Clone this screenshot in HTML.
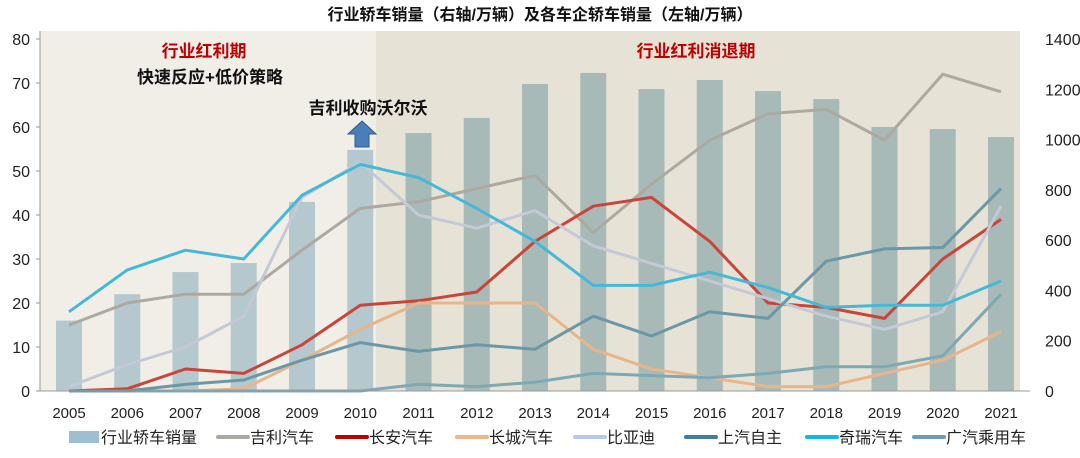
<!DOCTYPE html>
<html><head><meta charset="utf-8"><style>
body{margin:0;background:#fff;width:1080px;height:453px;overflow:hidden;font-family:"Liberation Sans","Noto Sans CJK SC",sans-serif}
svg text{font-family:"Liberation Sans","Noto Sans CJK SC",sans-serif}
</style></head><body>
<svg id="c" width="1080" height="453">
<rect x="40" y="31" width="336" height="360" fill="#F1EEE7"/>
<rect x="376" y="31" width="644" height="360" fill="#E6E3D6"/>
<g id="bars"></g><g id="lines"></g><g id="axes"></g>
<text x="540" y="20" text-anchor="middle" font-size="16" font-weight="bold" fill="#111">行业轿车销量（右轴/万辆）及各车企轿车销量（左轴/万辆）</text>
<text x="204" y="57" text-anchor="middle" font-size="17" font-weight="bold" fill="#C00000">行业红利期</text>
<text x="210" y="83" text-anchor="middle" font-size="17" font-weight="bold" fill="#111">快速反应+低价策略</text>
<text x="696" y="57" text-anchor="middle" font-size="17" font-weight="bold" fill="#C00000">行业红利消退期</text>
<text x="368" y="114" text-anchor="middle" font-size="17" font-weight="bold" fill="#111">吉利收购沃尔沃</text>
<polygon points="362,121 376,134 369,134 369,147 355,147 355,134 348,134" fill="#4A7EBB" stroke="#2F5C8F" stroke-width="1"/>
<g id="legend"></g>
</svg>
<script>
const years=["2005","2006","2007","2008","2009","2010","2011","2012","2013","2014","2015","2016","2017","2018","2019","2020","2021"];
const industry=[280,385,473,509,752,959,1026,1086,1221,1265,1201,1237,1193,1161,1050,1042,1010];
const geely=[15,20,22,22,32,41.5,43,46,49,36,47,57,63,64,57,72,68];
const changan=[0,0.5,5,4,10.5,19.5,20.5,22.5,34,42,44,34,20,19,16.5,30,39];
const greatwall=[0,0,0,0.5,7,14,20,20,20,9.5,5,3,1,1,4,7,13.5];
const byd=[1,6,10,17,44,52,40,37,41,33,29,25,21,17,14,18,42];
const saic=[0,0,1.5,2.5,7,11,9,10.5,9.5,17,12.5,18,16.5,29.5,32.3,32.6,46];
const chery=[18,27.5,32,30,44.5,51.5,48.5,41.5,34,24,24,27,23.5,19,19.5,19.5,25];
const gac=[0,0,0,0,0,0,1.5,1,2,4,3.5,3,4,5.5,5.5,8,22];
const leftTicks=[0,10,20,30,40,50,60,70,80];
const rightTicks=[0,200,400,600,800,1000,1200,1400];
const NS="http://www.w3.org/2000/svg";
const x=i=>69+i*58.25, yl=v=>391-v*4.4, yr=v=>391-v*352/1400;
function mk(t,a,p){const e=document.createElementNS(NS,t);for(const k in a)e.setAttribute(k,a[k]);document.getElementById(p).appendChild(e);return e;}
industry.forEach((v,i)=>{
 const r=mk('rect',{x:x(i)-13,y:yr(v),width:26,height:391-yr(v),fill:i<6?'#B4C8CE':'#A8BAB8'},'bars');
 
 
});
const series=[[geely,'#ADA9A0','geely'],[changan,'#C9453A','changan'],[greatwall,'#E8B58A','great-wall'],[byd,'#C3C9D6','byd'],[gac,'#7EA8B4','gac'],[saic,'#6A98A6','saic'],[chery,'#45B8D8','chery']];
series.forEach(([d,c,n])=>{
 const p=mk('polyline',{points:d.map((v,i)=>x(i)+','+yl(v)).join(' '),fill:'none',stroke:c,'stroke-width':3,'stroke-linejoin':'round'},'lines');
 
 
});
mk('line',{x1:40,y1:31,x2:40,y2:391,stroke:'#999'},'axes');
mk('line',{x1:40,y1:391,x2:1030,y2:391,stroke:'#999'},'axes');
leftTicks.forEach(v=>{
 mk('line',{x1:36,y1:yl(v),x2:40,y2:yl(v),stroke:'#999'},'axes');
 const t=mk('text',{x:30,y:yl(v)+6,'text-anchor':'end','font-size':16,fill:'#222'},'axes');t.textContent=v;
 
 
});
rightTicks.forEach(v=>{
 const t=mk('text',{x:1045,y:yr(v)+6,'font-size':16,fill:'#222'},'axes');t.textContent=v;
 
 
});
years.forEach((yv,i)=>{
 const t=mk('text',{x:x(i),y:418,'text-anchor':'middle','font-size':15,fill:'#222'},'axes');t.textContent=yv;
 
 
});
const legendNames=['行业轿车销量','吉利汽车','长安汽车','长城汽车','比亚迪','上汽自主','奇瑞汽车','广汽乘用车'];
const legendColors=['#9FBFCF','#ADA9A0','#C00000','#F0B58A','#B8C8E8','#3F7CA0','#10B8E8','#6E9BB5'];
const legendX=[69,218,337,457,575,686,807,914];
legendNames.forEach((n,i)=>{
 const g=mk('g',{},'legend');
 
 
 if(i===0){const r=document.createElementNS(NS,'rect');r.setAttribute('x',legendX[i]);r.setAttribute('y',431);r.setAttribute('width',30);r.setAttribute('height',12);r.setAttribute('fill',legendColors[i]);g.appendChild(r);}
 else{const l=document.createElementNS(NS,'line');l.setAttribute('x1',legendX[i]);l.setAttribute('x2',legendX[i]+30);l.setAttribute('y1',437);l.setAttribute('y2',437);l.setAttribute('stroke',legendColors[i]);l.setAttribute('stroke-width',4);l.setAttribute('stroke-linecap','round');g.appendChild(l);}
 const t=document.createElementNS(NS,'text');t.setAttribute('x',legendX[i]+32);t.setAttribute('y',443);t.setAttribute('font-size',16);t.setAttribute('fill','#222');t.textContent=n;g.appendChild(t);
});
</script>
</body></html>
